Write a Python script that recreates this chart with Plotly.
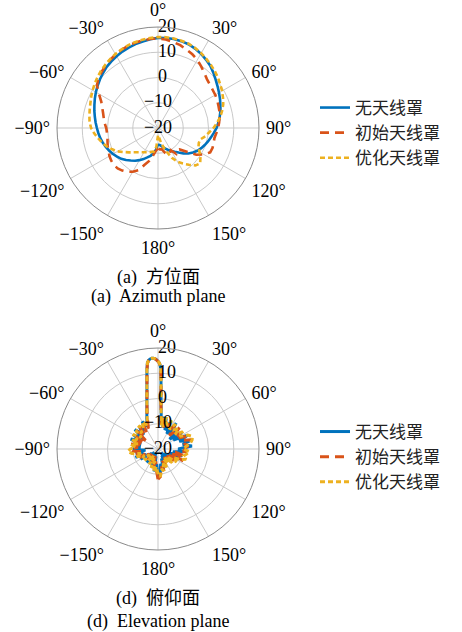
import plotly.graph_objects as go

# ---------------- data ----------------
series_names = ["无天线罩", "初始天线罩", "优化天线罩"]

az_theta = list(range(-180, 185, 5))
az_no_radome = [
    -13.5, -11.5, -9.8, -8.6, -7.6, -6.4, -5.3, -4.2, -3.2, -2.1,
    -1.0, -0.2, 0.6, 1.3, 2.0, 2.6, 3.2, 3.7, 4.2, 4.8,
    5.4, 6.1, 6.8, 7.6, 8.4, 9.2, 10.0, 10.8, 11.6, 12.2,
    12.8, 13.4, 13.9, 14.4, 14.8, 15.3, 15.7, 15.8, 15.8, 15.6,
    15.3, 14.7, 14.0, 13.1, 12.2, 11.0, 9.8, 8.8, 7.9, 7.1,
    6.3, 5.6, 4.8, 4.0, 3.2, 2.2, 1.3, 0.5, -0.3, -1.1,
    -2.0, -3.1, -4.3, -5.8, -7.3, -8.5, -9.5, -10.4, -11.3, -12.1,
    -12.8, -13.3, -13.5]
az_initial = [
    -12, -11, -9, -6.5, -4.5, -1.5, 0, 1.2, 2, 2.6,
    2.8, 2.6, 2.2, 1.6, 1.2, 0.7, 0.3, 0.3, 0.5, 1.2,
    1.8, 2.5, 3.5, 4.8, 7, 9.5, 10.8, 11.5, 12.3, 13,
    13.6, 14.2, 14.6, 15, 15.2, 15.4, 15.5, 15.2, 14.6, 14,
    13, 12.2, 11.2, 9.8, 8.5, 7.4, 6.8, 6.4, 6.2, 5.9,
    5.5, 5.2, 4.8, 4.3, 3.8, 3.2, 2.7, 2.8, 3, 2.8,
    1, -1.5, -5.5, -8, -8.5, -7.5, -9.8, -9, -10.5, -10,
    -11.5, -11.5, -12]
az_optimized = [
    -17, -12.5, -10.5, -10.2, -9.8, -9.4, -8.9, -8.3, -7.5, -6.4,
    -5, -3.4, -1.5, 0, 1.5, 2.8, 4, 5.3, 6.5, 7.2,
    7.6, 8, 8.5, 9.2, 9.9, 10.6, 11.3, 12, 12.6, 13.2,
    13.8, 14.3, 14.8, 15.2, 15.5, 15.8, 16, 16.1, 16, 15.8,
    15.5, 14.9, 14.2, 13.4, 12.6, 11.8, 11, 10.1, 9.3, 8.4,
    7.5, 6.3, 5, 3.5, 2, 0.3, -1, -2.6, -2.8, -2.3,
    -1, 0.5, 1.8, 1, -1, -2.8, -4.5, -7, -10, -12.5,
    -15, -16.5, -17]

el_theta = [
    -180, -175, -170, -165, -160, -155, -150, -145, -140, -135,
    -130, -125, -120, -115, -110, -105, -100, -95, -90, -85,
    -80, -75, -70, -65, -60, -55, -50, -45, -40, -35,
    -30, -25, -20, -17, -15, -13, -12, -11, -10, -9,
    -8, -7, -6, -5, -4, -3, -2, -1, 0, 1,
    2, 2.5, 3, 3.5, 4, 5, 6, 8, 10, 12,
    15, 20, 25, 30, 35, 40, 45, 50, 55, 60,
    65, 70, 75, 80, 85, 90, 95, 100, 105, 110,
    115, 120, 125, 130, 135, 140, 145, 150, 155, 160,
    165, 170, 175, 180]
el_no_radome = [
    -9.5, -14, -11, -17, -13, -18, -14, -17, -13, -18,
    -15, -17, -12, -15, -10.5, -14, -11, -15, -10, -13,
    -9.5, -13, -8.5, -12, -9, -13, -8, -12, -8.5, -11,
    -7.5, -10, -7, -5, -3, -0.4, 1.2, 3, 5.3, 8.1,
    11.6, 14.4, 15.4, 15.8, 16, 16, 15.8, 15.4, 14.8, 14,
    12, 7.2, 2.8, -0.4, -2.8, -5.6, -8, -10, -7, -11,
    -7.5, -12, -8, -13, -7.5, -12, -9, -14, -8.5, -13,
    -7, -11, -6.5, -10, -6.5, -12, -9, -14, -10, -15,
    -10.5, -16, -13, -17, -14, -18, -15, -17, -14, -16,
    -12, -14, -10, -9.5]
el_initial = [
    -8, -12, -15, -12, -17, -14, -18, -15, -17, -14,
    -18, -15, -16, -12, -15, -11, -14, -10, -9, -12,
    -8.5, -14, -10, -13, -10, -14, -9, -13, -9, -12,
    -8.5, -11, -8, -5.2, -3.2, -0.6, 1, 2.8, 5.1, 7.9,
    11.4, 14.2, 15.3, 15.7, 15.9, 16, 15.8, 15.3, 14.7, 13.9,
    11.8, 7, 2.6, -0.6, -3, -5.8, -8.5, -11, -8, -12,
    -8.5, -11, -9, -12, -8.5, -13, -8, -12, -9, -12,
    -8, -10, -6, -9, -8, -11, -8.5, -13, -9, -14,
    -9, -15, -12, -16, -13, -17, -14, -16, -13, -15,
    -11, -13, -9, -8]
el_optimized = [
    -10, -13, -10.5, -15, -12, -16, -13, -17, -14, -16,
    -13, -16, -13, -14, -11, -13, -9.5, -8, -9, -11,
    -9, -12, -9, -11, -8.5, -12, -8.5, -11, -8, -10,
    -7.5, -9.5, -7.5, -5, -3, -0.4, 1.2, 3, 5.3, 8.1,
    11.6, 14.4, 15.4, 15.8, 16, 16, 15.8, 15.4, 14.8, 14,
    12, 7.2, 2.8, -0.4, -2.8, -5.6, -8, -10.5, -7.5, -11,
    -7, -10, -7.5, -11, -8, -10, -8.5, -11, -8, -10,
    -7, -5.5, -6, -7, -9, -10, -7.5, -8.5, -9.5, -8.2,
    -10, -13, -11, -15, -12, -16, -13, -15, -12, -14,
    -11, -12, -9, -10]

ang_ticks = [0, 30, 60, 90, 120, 150, 180, 210, 240, 270, 300, 330]
ang_labels = ["0°", "30°", "60°", "90°", "120°", "150°", "180°",
              "−150°", "−120°", "−90°", "−60°", "−30°"]
radial_ticks = [-10, 0, 10, 20]
radial_pos_labels = [20, 10, 0]
radial_neg_labels = [-10, -20]

captions_top = ["(a)\u00a0 方位面", "(a)\u00a0 Azimuth plane"]
captions_bottom = ["(d)\u00a0 俯仰面", "(d)\u00a0 Elevation plane"]

# ---------------- style ----------------
FONT = "Liberation Serif, Noto Sans CJK SC, serif"
colors = ["#0072BD", "#D95319", "#EDB120"]
dashes = ["solid", "9px,6px", "5px,3px"]
W, H = 462, 632

fig = go.Figure()

def add_series(theta, rs, subplot, legend, width):
    for name, r, c, d in zip(series_names, rs, colors, dashes):
        fig.add_trace(go.Scatterpolar(
            r=r, theta=theta, mode="lines", name=name,
            line=dict(color=c, width=width, dash=d),
            subplot=subplot, legend=legend, hoverinfo="skip"))

def add_rlabels(subplot):
    fig.add_trace(go.Scatterpolar(
        r=radial_pos_labels, theta=[0] * len(radial_pos_labels), mode="text",
        text=[str(v) for v in radial_pos_labels], textposition="middle right",
        textfont=dict(family=FONT, size=18, color="black"),
        showlegend=False, cliponaxis=False, subplot=subplot, hoverinfo="skip"))
    fig.add_trace(go.Scatterpolar(
        r=radial_neg_labels, theta=[0] * len(radial_neg_labels), mode="text",
        text=["\u2212" + str(abs(v)) for v in radial_neg_labels], textposition="middle center",
        textfont=dict(family=FONT, size=18, color="black"),
        showlegend=False, cliponaxis=False, subplot=subplot, hoverinfo="skip"))

add_series(az_theta, [az_no_radome, az_initial, az_optimized], "polar", "legend", 2.6)
add_rlabels("polar")
add_series(el_theta, [el_no_radome, el_initial, el_optimized], "polar2", "legend2", 3)
add_rlabels("polar2")

def polar_cfg(cy):
    R = 101
    return dict(
        domain=dict(x=[(158 - R) / W, (158 + R) / W],
                    y=[1 - (cy + R) / H, 1 - (cy - R) / H]),
        bgcolor="white",
        angularaxis=dict(direction="clockwise", rotation=90, tickmode="array",
                         tickvals=ang_ticks, ticktext=ang_labels,
                         ticks="outside", ticklen=3, tickcolor="rgba(0,0,0,0)",
                         showgrid=True, gridcolor="#c9c9c9", gridwidth=1,
                         showline=True, linecolor="#8a8a8a", linewidth=1,
                         tickfont=dict(family=FONT, size=18, color="black")),
        radialaxis=dict(range=[-20, 20], tickmode="array", tickvals=radial_ticks,
                        showticklabels=False, ticks="", showline=False,
                        gridcolor="#c9c9c9", gridwidth=1, angle=90),
    )

legend_common = dict(xanchor="left", yanchor="top", bgcolor="rgba(0,0,0,0)",
                     font=dict(family=FONT, size=17, color="#222"),
                     itemwidth=30, tracegroupgap=0)

ann = []
for txt, y in zip(captions_top, [277, 296]):
    ann.append(dict(text=txt, x=158 / W, y=1 - y / H, xref="paper", yref="paper",
                    showarrow=False, xanchor="center", yanchor="middle",
                    font=dict(family=FONT, size=18, color="black")))
for txt, y in zip(captions_bottom, [598, 621]):
    ann.append(dict(text=txt, x=158 / W, y=1 - y / H, xref="paper", yref="paper",
                    showarrow=False, xanchor="center", yanchor="middle",
                    font=dict(family=FONT, size=18, color="black")))

fig.update_layout(
    width=W, height=H, margin=dict(l=0, r=0, t=0, b=0),
    paper_bgcolor="white", plot_bgcolor="white",
    font=dict(family=FONT, size=18, color="black"),
    polar=polar_cfg(128), polar2=polar_cfg(449),
    legend=dict(x=315 / W, y=1 - 90 / H, **legend_common),
    legend2=dict(x=315 / W, y=1 - 414 / H, **legend_common),
    annotations=ann,
)

fig.write_html("out.html", config={"displayModeBar": False},
               post_script="document.body.style.margin='0';")
